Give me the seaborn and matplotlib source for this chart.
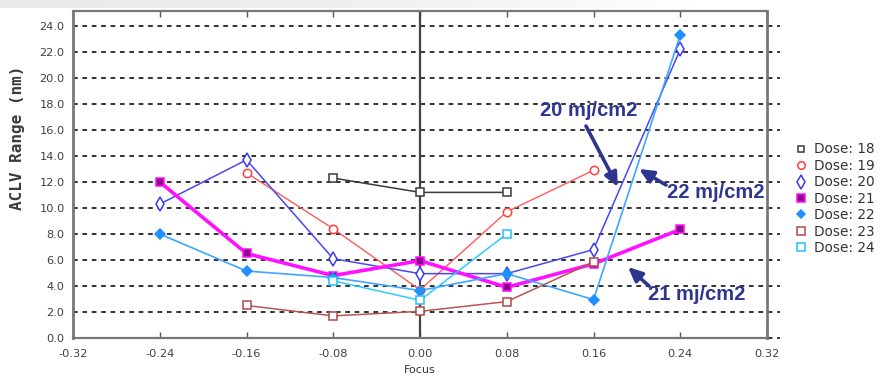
import numpy as np
import pandas as pd
import matplotlib
matplotlib.use("Agg")
import matplotlib.pyplot as plt
from matplotlib.lines import Line2D
import seaborn as sns

# Focus positions and ACLV range per dose (nm)
focus = [-0.24, -0.16, -0.08, 0.00, 0.08, 0.16, 0.24]
dose_18 = [None, None, 12.3, 11.2, 11.2, None, None]
dose_19 = [None, 12.7, 8.4, 3.7, 9.7, 12.9, None]
dose_20 = [10.3, 13.7, 6.1, 4.95, 4.95, 6.8, 22.2]
dose_21 = [12.0, 6.5, 4.8, 5.95, 3.9, 5.7, 8.35]
dose_22 = [8.0, 5.15, 4.65, 3.65, 4.95, 2.95, 23.3]
dose_23 = [None, 2.5, 1.7, 2.05, 2.8, 5.85, None]
dose_24 = [None, None, 4.4, 2.9, 8.0, None, None]

dose_names = ["Dose: 18", "Dose: 19", "Dose: 20", "Dose: 21",
              "Dose: 22", "Dose: 23", "Dose: 24"]
series = [dose_18, dose_19, dose_20, dose_21, dose_22, dose_23, dose_24]

x_ticks = [-0.32, -0.24, -0.16, -0.08, 0.00, 0.08, 0.16, 0.24, 0.32]
y_ticks = [0, 2, 4, 6, 8, 10, 12, 14, 16, 18, 20, 22, 24]

callouts = ["20 mj/cm2", "22 mj/cm2", "21 mj/cm2"]

rows = []
for name, vals in zip(dose_names, series):
    for f, v in zip(focus, vals):
        if v is not None:
            rows.append({"Focus": f, "ACLV": v, "Dose": name})
df = pd.DataFrame(rows)

styles = {
    "Dose: 18": dict(color="#3a3a3a", marker="s", mfc="white", mec="#3a3a3a", lw=1.1, ms=5.5),
    "Dose: 19": dict(color="#ff5a5a", marker="o", mfc="white", mec="#ff4040", lw=1.0, ms=6),
    "Dose: 20": dict(color="#4848f0", marker="d", mfc="white", mec="#3a3aee", lw=1.1, ms=7.5),
    "Dose: 21": dict(color="#ff10ff", marker="s", mfc="#900090", mec="#ff10ff", lw=2.6, ms=6),
    "Dose: 22": dict(color="#3fa6ff", marker="D", mfc="#2090ff", mec="#2090ff", lw=1.2, ms=5),
    "Dose: 23": dict(color="#b85555", marker="s", mfc="white", mec="#b04848", lw=1.1, ms=6),
    "Dose: 24": dict(color="#30c8ff", marker="s", mfc="white", mec="#20c0ff", lw=1.1, ms=6),
}

sns.set_theme(style="white")
plt.rcParams["font.family"] = ["DejaVu Sans"]

fig = plt.figure(figsize=(8.86, 3.81), dpi=100)
ax = fig.add_axes([73 / 886, 1 - 338 / 381, (767 - 73) / 886, (338 - 11) / 381])

# faint header band along the top edge
band = fig.add_axes([0, 1 - 8 / 381, 0.78, 8 / 381], zorder=-5)
grad = np.linspace(0, 1, 256)[None, :]
band.imshow(np.dstack([0.92 + 0.08 * grad ** 2] * 3), aspect="auto", extent=[0, 1, 0, 1])
band.axis("off")

xmin, xmax = -0.32, 0.32
ymin, ymax = 0.0, 25.15

# dashed horizontal grid running slightly past the right frame
for yv in y_ticks:
    ax.plot([xmin, 0.332], [yv, yv], color="#222222", lw=1.3,
            ls=(0, (2.6, 2.6)), clip_on=False, zorder=1)

# focus = 0 reference line
ax.axvline(0, color="#444444", lw=1.6, zorder=2)

for name in dose_names:
    st = styles[name]
    sub = df[df["Dose"] == name]
    sns.lineplot(data=sub, x="Focus", y="ACLV", ax=ax, color=st["color"],
                 lw=st["lw"], marker=st["marker"], markersize=st["ms"],
                 markerfacecolor=st["mfc"], markeredgecolor=st["mec"],
                 markeredgewidth=1.1, legend=False, zorder=3, clip_on=False)

ax.set_xlim(xmin, xmax)
ax.set_ylim(ymin, ymax)
ax.set_xticks(x_ticks)
ax.set_xticklabels([f"{t:.2f}" for t in x_ticks])
ax.set_yticks(y_ticks)
ax.set_yticklabels([f"{t:.1f}" for t in y_ticks])
ax.tick_params(axis="both", labelsize=8.2, colors="#404040")
ax.tick_params(axis="x", direction="in", length=4, width=1, color="#555555",
               top=True, bottom=True, pad=8)
ax.tick_params(axis="y", length=0, pad=6)

for side in ["left", "right"]:
    ax.spines[side].set_color("#777777")
    ax.spines[side].set_linewidth(2.0)
for side in ["top", "bottom"]:
    ax.spines[side].set_color("#777777")
    ax.spines[side].set_linewidth(1.6)
ax.set_facecolor("white")

ax.set_xlabel("Focus", fontsize=8, color="#333333", labelpad=4)
ax.set_ylabel("")
fig.text(18 / 886, 1 - 138 / 381, "ACLV Range (nm)", rotation=90, ha="center",
         va="center", fontsize=11.5, fontweight="bold", color="#3a3a3a",
         family="DejaVu Sans Mono")

# legend with marker-only entries
handles = []
for name in dose_names:
    st = styles[name]
    handles.append(Line2D([], [], ls="none", marker=st["marker"],
                          markersize=st["ms"] * 0.9, markerfacecolor=st["mfc"],
                          markeredgecolor=st["mec"], markeredgewidth=1.1, label=name))
leg = fig.legend(handles=handles, loc="upper left",
                 bbox_to_anchor=(790 / 886, 1 - 137 / 381), frameon=False,
                 fontsize=9.8, handlelength=0.8, handletextpad=0.6,
                 labelspacing=0.18, borderaxespad=0)
for t in leg.get_texts():
    t.set_color("#333333")

# dose call-outs with arrows
navy = "#2d3590"
fig_tr = fig.transFigure
arrow = dict(arrowstyle="-|>,head_length=0.7,head_width=0.32",
             color=navy, lw=2.6, shrinkA=0, shrinkB=0)

def px(x, y):
    return (x / 886, 1 - y / 381)

ax.annotate("", xy=px(618, 187), xytext=px(586, 126), xycoords=fig_tr,
            textcoords=fig_tr, arrowprops=arrow)
fig.text(*px(589, 110), callouts[0], ha="center", va="center", fontsize=14.5,
         fontweight="bold", color=navy, family="Liberation Sans")

ax.annotate("", xy=px(639, 169), xytext=px(666, 185), xycoords=fig_tr,
            textcoords=fig_tr, arrowprops=arrow)
fig.text(*px(716, 192), callouts[1], ha="center", va="center", fontsize=14.5,
         fontweight="bold", color=navy, family="Liberation Sans")

ax.annotate("", xy=px(628, 267), xytext=px(649, 286), xycoords=fig_tr,
            textcoords=fig_tr, arrowprops=arrow)
fig.text(*px(697, 294), callouts[2], ha="center", va="center", fontsize=14.5,
         fontweight="bold", color=navy, family="Liberation Sans")

fig.savefig("out.png", dpi=100)
